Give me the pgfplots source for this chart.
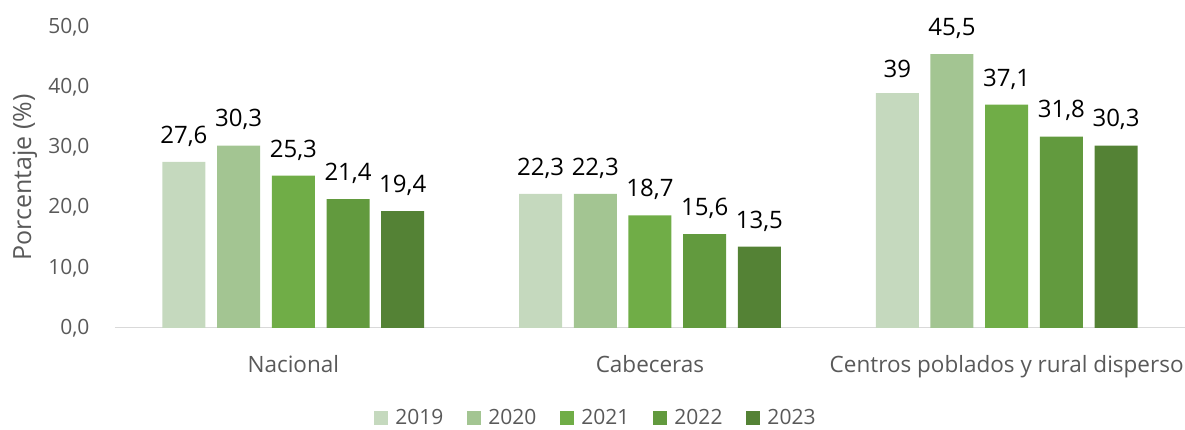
\documentclass[border=0pt]{standalone}
\usepackage{fontspec}
\setmainfont{Open Sans}
\usepackage{pgfplots}
\pgfplotsset{compat=1.18}
\definecolor{c1}{HTML}{C5D9BE}
\definecolor{c2}{HTML}{A3C592}
\definecolor{c3}{HTML}{70AD47}
\definecolor{c4}{HTML}{629A3E}
\definecolor{c5}{HTML}{548235}
\definecolor{tgray}{HTML}{595959}
\definecolor{agray}{HTML}{D9D9D9}
\begin{document}
\begin{tikzpicture}
\begin{axis}[
  scale only axis, width=1070pt, height=301pt,
  ymin=0, ymax=50, xmin=-0.5, xmax=2.5,
  clip=false,
  ybar=11.7pt, bar width=43pt,
  axis x line*=bottom, axis y line*=left,
  axis line style={-},
  x axis line style={agray, line width=1pt},
  y axis line style={draw=none},
  major tick length=0pt,
  ytick={0,10,...,50},
  yticklabel={\pgfmathprintnumber[fixed,fixed zerofill,precision=1,use comma]{\tick}},
  /pgf/number format/assume math mode=true,
  tick label style={font=\fontsize{21}{25}\selectfont, text=tgray},
  yticklabel style={xshift=-22pt},
  xticklabel style={yshift=-24pt, font=\fontsize{22.5}{26}\selectfont},
  xtick={0,1,2},
  xticklabels={Nacional,Cabeceras,Centros poblados y rural disperso},
  ylabel={Porcentaje (\%)},
  every axis y label/.style={at={(axis description cs:-0.0841,0.5)}, rotate=90, anchor=center,
    font=\fontsize{25}{29}\selectfont, text=tgray},
  nodes near coords={\pgfmathprintnumber[use comma,fixed]{\pgfplotspointmeta}},
  nodes near coords style={font=\fontsize{24}{28}\selectfont, text=black, yshift=12pt},
  legend columns=5,
  legend style={draw=none, at={(0.4495,-0.299)}, anchor=center,
    font=\fontsize{21}{25}\selectfont, text=tgray,
    /tikz/every odd column/.append style={column sep=5pt},
    /tikz/every even column/.append style={column sep=22pt}},
  legend image code/.code={\fill[#1] (0pt,-7pt) rectangle (14pt,7pt);},
]
\addplot[fill=c1, draw=none] coordinates {(0,27.6) (1,22.3) (2,39)};
\addplot[fill=c2, draw=none] coordinates {(0,30.3) (1,22.3) (2,45.5)};
\addplot[fill=c3, draw=none] coordinates {(0,25.3) (1,18.7) (2,37.1)};
\addplot[fill=c4, draw=none] coordinates {(0,21.4) (1,15.6) (2,31.8)};
\addplot[fill=c5, draw=none] coordinates {(0,19.4) (1,13.5) (2,30.3)};
\legend{2019,2020,2021,2022,2023}
\end{axis}
\pgfresetboundingbox
\path[use as bounding box] ([shift={(-115pt,-102pt)}]current axis.south west) rectangle ++(1185pt,430pt);
\end{tikzpicture}
\end{document}
